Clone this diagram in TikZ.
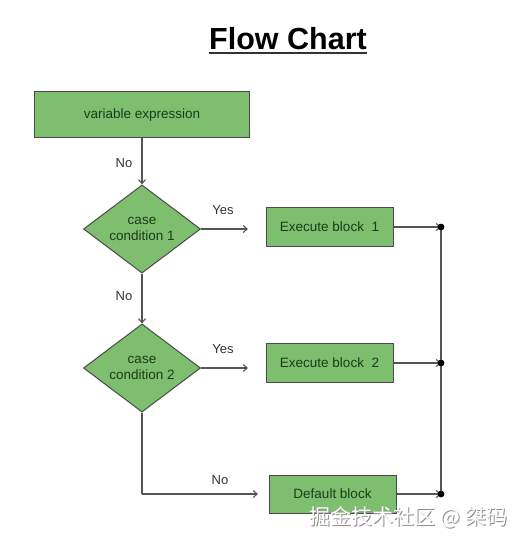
\documentclass[tikz,border=0pt]{standalone}
\usepackage{fontspec}
\setmainfont{Liberation Sans}
\newfontfamily\cjk{Noto Sans CJK SC}
\usetikzlibrary{shapes.geometric,arrows.meta}
\definecolor{boxgreen}{HTML}{7DBF6F}
\definecolor{boxline}{HTML}{4A4A4A}
\definecolor{boxtext}{HTML}{1E3A1A}
\definecolor{conn}{HTML}{555555}
\tikzset{
  procbox/.style={rectangle, draw=boxline, line width=1pt, fill=boxgreen, text=boxtext,
    font=\fontsize{13.5}{15}\selectfont, inner sep=0pt},
  decbox/.style={diamond, draw=boxline, line width=1pt, fill=boxgreen, text=boxtext,
    font=\fontsize{13.5}{15.5}\selectfont, inner sep=0pt, align=center,
    minimum width=117pt, minimum height=86pt},
  conline/.style={draw=conn, line width=1.1pt},
  conarrow/.style={conline, -{Straight Barb[length=4pt,width=7pt]}},
  lbl/.style={font=\fontsize{13}{15}\selectfont, text=black!80, inner sep=0pt},
  dotnode/.style={circle, fill=black, inner sep=0pt, minimum size=6.5pt},
}
\begin{document}
\begin{tikzpicture}[x=1pt,y=-1pt]
\useasboundingbox (0,0) rectangle (527,545);
% title
\node[font=\fontsize{30.5}{33}\bfseries\selectfont, inner sep=0pt] (title) at (288,39) {Flow Chart};
\draw[line width=2pt, black!80] ([yshift=-3pt]title.south west) -- ([yshift=-3pt]title.south east);
% nodes
\node[procbox, minimum width=215pt, minimum height=46pt] (var) at (142,115) {variable expression};
\node[decbox] (d1) at (142,229) {case\\condition 1};
\node[procbox, minimum width=127pt, minimum height=39pt] (e1) at (329.5,227) {Execute block~~1};
\node[decbox] (d2) at (142,368) {case\\condition 2};
\node[procbox, minimum width=127pt, minimum height=39pt] (e2) at (329.5,363) {Execute block~~2};
\node[procbox, minimum width=127pt, minimum height=38pt] (def) at (332.5,494) {Default block};
\node[dotnode] (p1) at (441,227) {};
\node[dotnode] (p2) at (441,363) {};
\node[dotnode] (p3) at (441,494) {};
\coordinate (y1) at (248,229);
\coordinate (y2) at (248,368);
\coordinate (turn) at (142,494);
\coordinate (nend) at (258,494);
% connectors
\draw[conarrow] (var.south) -- (d1.north);
\draw[conarrow] (d1.south) -- (d2.north);
\draw[conarrow] (d1.east) -- (y1);
\draw[conarrow] (d2.east) -- (y2);
\draw[conline] (d2.south) -- (turn);
\draw[conarrow] (turn) -- (nend);
\draw[conarrow] (e1.east) -- (p1.center);
\draw[conarrow] (e2.east) -- (p2.center);
\draw[conarrow] (def.east) -- (p3.center);
\draw[conline] (p1.center) -- (p3.center);
\node[dotnode] at (p1) {};
\node[dotnode] at (p2) {};
\node[dotnode] at (p3) {};
% labels
\node[lbl] (l1) at (124,163) {No};
\node[lbl] (l2) at (124,296) {No};
\node[lbl] (l3) at (223,210) {Yes};
\node[lbl] (l4) at (223,349) {Yes};
\node[lbl] (l5) at (220,480) {No};
% watermark
\node[font=\cjk\fontsize{21}{24}\selectfont, text=black!45, inner sep=0pt] (wms) at (409.5,518.5) {掘金技术社区 @ 桀码};
\node[font=\cjk\fontsize{21}{24}\selectfont, text=white, inner sep=0pt] (wm) at (408.5,517.5) {掘金技术社区 @ 桀码};
\end{tikzpicture}
\end{document}
